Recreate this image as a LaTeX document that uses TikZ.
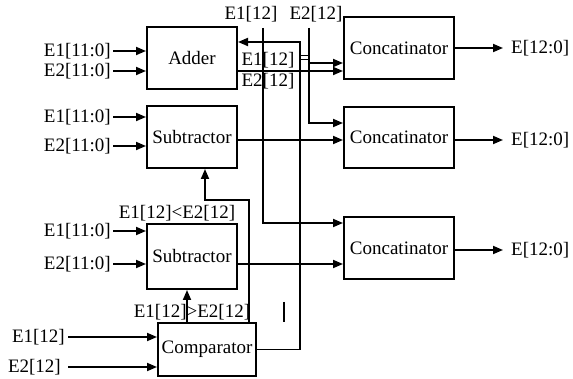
\documentclass[tikz,border=0pt]{standalone}
\usepackage{fontspec}
\setmainfont{Liberation Serif}
\usetikzlibrary{arrows.meta,calc}
\begin{document}
\begin{tikzpicture}[x=1pt,y=-1pt,
  box/.style={draw,line width=2pt,inner sep=0pt,font=\fontsize{19}{21}\selectfont},
  lbl/.style={inner sep=0pt,font=\fontsize{19}{21}\selectfont},
  wire/.style={line width=1.8pt},
  arr/.style={wire,-{Triangle[length=10pt,width=8pt]}}]
\useasboundingbox (0,0) rectangle (573,379);
% boxes
\node[box,minimum width=90pt,minimum height=62pt] (adder) at (192,58) {Adder};
\node[box,minimum width=90pt,minimum height=62pt] (sub1) at (192,137) {Subtractor};
\node[box,minimum width=90pt,minimum height=65pt] (sub2) at (192,256.5) {Subtractor};
\node[box,minimum width=98pt,minimum height=53pt] (comp) at (207,349.5) {Comparator};
\node[box,minimum width=110pt,minimum height=62pt] (cat1) at (399,48) {Concatinator};
\node[box,minimum width=110pt,minimum height=61pt] (cat2) at (399,137.5) {Concatinator};
\node[box,minimum width=110pt,minimum height=62pt] (cat3) at (399,248) {Concatinator};
% input labels
\node[lbl,anchor=east,inner xsep=2pt] (ia1) at (113,51) {E1[11:0]};
\node[lbl,anchor=east,inner xsep=2pt] (ia2) at (113,71) {E2[11:0]};
\node[lbl,anchor=east,inner xsep=2pt] (is1) at (113,117) {E1[11:0]};
\node[lbl,anchor=east,inner xsep=2pt] (is2) at (113,146) {E2[11:0]};
\node[lbl,anchor=east,inner xsep=2pt] (it1) at (113,231) {E1[11:0]};
\node[lbl,anchor=east,inner xsep=2pt] (it2) at (113,264) {E2[11:0]};
\node[lbl,anchor=east,inner xsep=3pt] (ic1) at (68,337) {E1[12]};
\node[lbl,anchor=east,inner xsep=7pt] (ic2) at (68,367) {E2[12]};
\foreach \n/\b in {ia1/adder,ia2/adder,is1/sub1,is2/sub1,it1/sub2,it2/sub2,ic1/comp,ic2/comp}
  \draw[arr] (\n.east) -- (\b.west |- \n.east);
% outputs
\node[lbl,anchor=west,inner xsep=8pt] (o1) at (503,48) {E[12:0]};
\node[lbl,anchor=west,inner xsep=8pt] (o2) at (503,140) {E[12:0]};
\node[lbl,anchor=west,inner xsep=8pt] (o3) at (503,250) {E[12:0]};
\foreach \n/\b in {o1/cat1,o2/cat2,o3/cat3}
  \draw[arr] (\b.east |- \n.west) -- (\n.west);
% other labels
\node[lbl] (tE1) at (251,14) {E1[12]};
\node[lbl] (tE2) at (316,14) {E2[12]};
\node[lbl] (aE1) at (268,60) {E1[12]};
\node[lbl] (aE2) at (268,81) {E2[12]};
\node[lbl] (gt) at (192,312) {E1[12]>E2[12]};
\node[lbl] (lt) at (177,213) {E1[12]<E2[12]};
% routing coordinates
\coordinate (yA) at (0,71);
\coordinate (yS1) at (0,140);
\coordinate (yS2) at (0,264);
\coordinate (e1top) at (263,28);
\coordinate (e1bot) at (263,223);
\coordinate (e2top) at (309,28);
\coordinate (e2mid) at (309,63);
\coordinate (e2bot) at (309,123);
\coordinate (fb) at (300,42);
\coordinate (gx) at (187,0);
\coordinate (l1) at (249,200);
\coordinate (l2) at (205,200);
% connectors
\draw[arr] (adder.east |- yA) -- (cat1.west |- yA);
\draw[arr] (sub1.east |- yS1) -- (cat2.west |- yS1);
\draw[arr] (sub2.east |- yS2) -- (cat3.west |- yS2);
\draw[arr] (e1top) -- (e1bot) -- (cat3.west |- e1bot);
\draw[arr] (e2top) -- (e2bot) -- (cat2.west |- e2bot);
\draw[arr] (e2mid) -- (cat1.west |- e2mid);
\draw[arr] (comp.east) -| (fb) -- (adder.east |- fb);
\draw[arr] (comp.north -| gx) -- (sub2.south -| gx);
\draw[arr] (comp.north -| l1) -- (l1) -- (l2) -- (sub1.south -| l2);
% small marks
\draw[line width=1pt] (300,56) -- (308,56) (300,59.5) -- (308,59.5);
\draw[wire] (284,302) -- (284,322);
\end{tikzpicture}
\end{document}
